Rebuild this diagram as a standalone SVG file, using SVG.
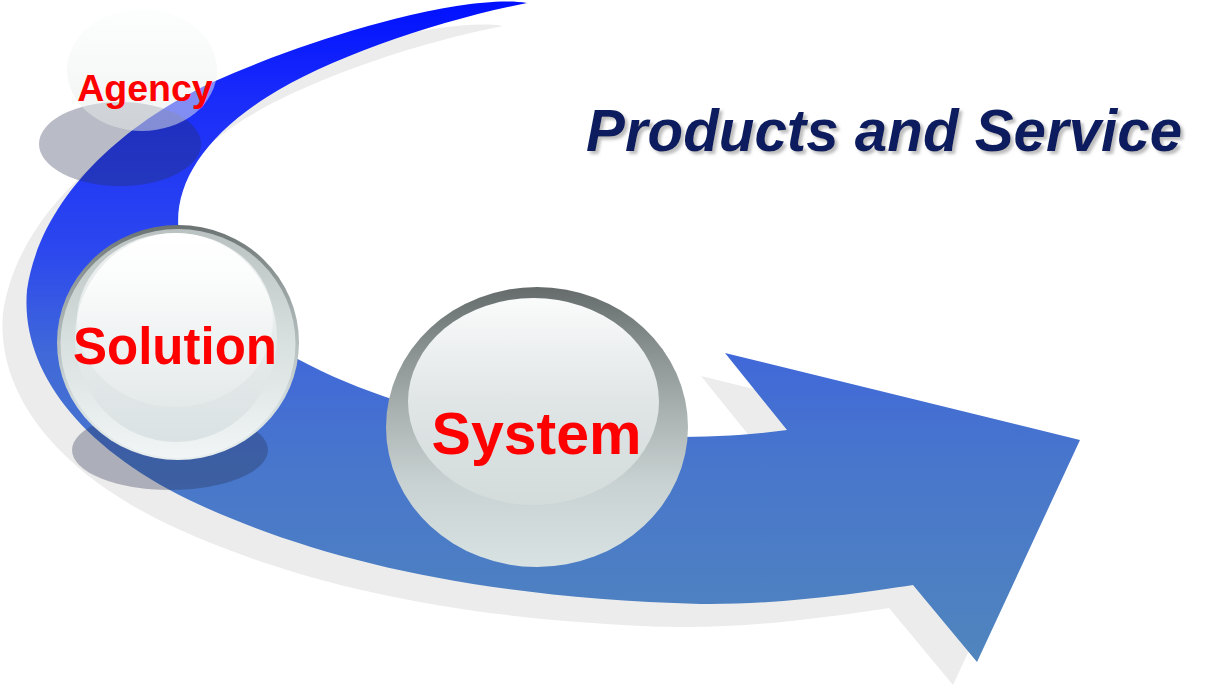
<svg xmlns="http://www.w3.org/2000/svg" width="1222" height="685" viewBox="0 0 1222 685">
  <defs>
    <linearGradient id="blueGrad" gradientUnits="userSpaceOnUse" x1="0" y1="0" x2="0" y2="662">
      <stop offset="0" stop-color="#0010ff"/>
      <stop offset="0.15" stop-color="#1a2cfa"/>
      <stop offset="0.38" stop-color="#2c48ee"/>
      <stop offset="0.53" stop-color="#4068d9"/>
      <stop offset="0.7" stop-color="#4876cc"/>
      <stop offset="1" stop-color="#5085bd"/>
    </linearGradient>
    <linearGradient id="agencyGrad" x1="0" y1="0" x2="0" y2="1">
      <stop offset="0" stop-color="#fbfcfc"/>
      <stop offset="1" stop-color="#e4e9e9"/>
    </linearGradient>
    <linearGradient id="rimSol" x1="0" y1="0" x2="0" y2="1">
      <stop offset="0" stop-color="#6b7272"/>
      <stop offset="0.35" stop-color="#a3acac"/>
      <stop offset="0.75" stop-color="#d3dcdc"/>
      <stop offset="1" stop-color="#e9efef"/>
    </linearGradient>
    <linearGradient id="rimSol2" x1="0" y1="0" x2="0" y2="1">
      <stop offset="0" stop-color="#b9c1c1"/>
      <stop offset="0.5" stop-color="#d9e0e0"/>
      <stop offset="1" stop-color="#f1f5f5"/>
    </linearGradient>
    <linearGradient id="dishSol" x1="0" y1="0" x2="0" y2="1">
      <stop offset="0" stop-color="#ffffff"/>
      <stop offset="0.45" stop-color="#e7ecec"/>
      <stop offset="1" stop-color="#dbe2e3"/>
    </linearGradient>
    <linearGradient id="hl" x1="0" y1="0" x2="0" y2="1">
      <stop offset="0" stop-color="#ffffff" stop-opacity="0.8"/>
      <stop offset="1" stop-color="#ffffff" stop-opacity="0.15"/>
    </linearGradient>
    <linearGradient id="rimSys" x1="0" y1="0" x2="0" y2="1">
      <stop offset="0" stop-color="#656b6b"/>
      <stop offset="0.2" stop-color="#858d8d"/>
      <stop offset="0.45" stop-color="#aab2b2"/>
      <stop offset="0.7" stop-color="#c9d2d2"/>
      <stop offset="1" stop-color="#d8e2e2"/>
    </linearGradient>
    <linearGradient id="hlSys" x1="0" y1="0" x2="0" y2="1">
      <stop offset="0" stop-color="#fafbfb"/>
      <stop offset="0.5" stop-color="#e0e5e6"/>
      <stop offset="1" stop-color="#d3dbdb"/>
    </linearGradient>
    <filter id="titleShadow" x="-5%" y="-20%" width="110%" height="150%">
      <feDropShadow dx="3" dy="3" stdDeviation="1.5" flood-color="#7a7a7a" flood-opacity="0.5"/>
    </filter>
    <path id="arrowShape" d="M527,3 C470,-6 330,30 213,82 C120,125 40,200 27,290 C20,370 80,450 200,505 C320,560 480,598 700,604 C780,605 860,593 913,585 L977,662 L1080,440 L725,353 L787,430 C700,442 560,440 450,415 C330,388 200,320 180,240 C170,190 200,140 267,97 C330,57 440,20 527,3 Z"/>
  </defs>
  <style>
    .lbl { font-family: "Liberation Sans", Arial, sans-serif; font-weight: bold; fill: #ff0000; text-anchor: middle; }
    .shade { fill: #242e4d; fill-opacity: 0.32; }
    .title { font-family: "Liberation Sans", Arial, sans-serif; font-weight: bold; font-style: italic; fill: #0b1f5e; }
  </style>

  <rect width="1222" height="685" fill="#ffffff"/>

  <g id="connectors">
    <use href="#arrowShape" transform="translate(-24,23)" fill="#ececec"/>
    <use href="#arrowShape" fill="url(#blueGrad)"/>
  </g>

  <g id="agency">
    <ellipse class="shade" cx="120" cy="144" rx="81" ry="42"/>
    <ellipse cx="142" cy="70" rx="75" ry="61" fill="url(#agencyGrad)" fill-opacity="0.5"/>
    <text class="lbl" x="145" y="101" font-size="37.5">Agency</text>
  </g>

  <g id="solution">
    <ellipse class="shade" cx="170" cy="450" rx="98" ry="40"/>
    <ellipse cx="178" cy="342.5" rx="121" ry="117.5" fill="url(#rimSol)"/>
    <ellipse cx="178" cy="343.5" rx="117.5" ry="114.5" fill="url(#rimSol2)"/>
    <ellipse cx="176" cy="337.5" rx="101" ry="104.5" fill="url(#dishSol)"/>
    <ellipse cx="175" cy="320" rx="98" ry="87" fill="url(#hl)"/>
    <text class="lbl" x="175" y="364" font-size="51">Solution</text>
  </g>

  <g id="system">
    <ellipse cx="537" cy="427" rx="151" ry="140" fill="url(#rimSys)"/>
    <ellipse cx="533.5" cy="401.5" rx="125.5" ry="103.5" fill="url(#hlSys)"/>
    <text class="lbl" x="536.5" y="454" font-size="59">System</text>
  </g>

  <g id="title">
    <text class="title" x="586" y="151" font-size="58.3" filter="url(#titleShadow)">Products and Service</text>
  </g>
</svg>
